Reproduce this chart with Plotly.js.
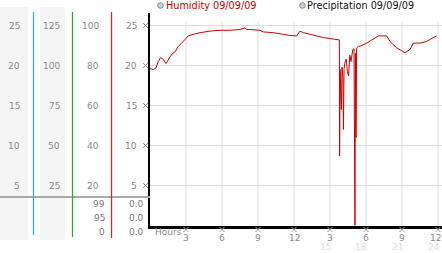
<!DOCTYPE html>
<html>
<head>
<meta charset="utf-8">
<script src="https://cdn.plot.ly/plotly-3.0.1.min.js"></script>
<style>html,body{margin:0;padding:0;background:#fff}#chart{width:442px;height:253px}</style>
</head>
<body>
<div id="chart"></div>
<script>
// ---- data ----
const hours = [0, 0.28, 0.5, 0.69, 0.89, 1.11, 1.33, 1.53, 1.81, 2.08, 2.36, 2.64, 2.92, 3.19, 3.61, 4.17, 5.0, 5.83, 6.67, 7.5, 7.92, 8.06, 8.3, 9.17, 9.44, 10.28, 11.11, 11.67, 12.22, 12.5, 12.78, 13.33, 13.89, 14.44, 15.28, 15.69,
  15.78, 15.8, 15.85, 15.9, 15.95, 16.0, 16.08, 16.12, 16.17, 16.25, 16.35, 16.45, 16.55, 16.65, 16.75, 16.9, 17.0, 17.08, 17.12, 17.17, 17.22,
  17.36, 17.5, 18.06, 18.61, 19.03, 19.72, 20.0, 20.56, 20.97, 21.25, 21.67, 21.94, 22.5, 23.06, 23.61, 23.89];
const humidity = [19.6, 19.5, 19.7, 20.5, 21.0, 20.75, 20.25, 20.75, 21.4, 21.7, 22.4, 22.8, 23.3, 23.7, 23.9, 24.1, 24.3, 24.4, 24.4, 24.5, 24.7, 24.5, 24.5, 24.4, 24.2, 24.1, 23.9, 23.75, 23.7, 24.3, 24.1, 23.9, 23.7, 23.5, 23.3, 23.25,
  23.2, 8.7, 19.5, 16.2, 14.5, 19.8, 18.5, 12.0, 19.6, 20.4, 20.8, 19.2, 18.7, 21.3, 20.5, 22.0, 22.1, 0, 21.5, 11.0, 22.2,
  22.4, 22.4, 22.8, 23.25, 23.7, 23.7, 23.0, 22.2, 21.8, 21.6, 22.0, 22.8, 22.8, 23.0, 23.5, 23.7];
const hourTicks = [3, 6, 9, 12, 15, 18, 21, 24];
const hourLabels = ["3", "6", "9", "12", "3", "6", "9", "12"];
const laterTicks = [15, 18, 21, 24];
const laterLabels = ["15", "18", "21", "24"];
const gridVals = [25, 20, 15, 10, 5];
const col1Labels = ["25", "20", "15", "10", "5"];
const col2Labels = ["125", "100", "75", "50", "25"];
const col3Labels = ["100", "80", "60", "40", "20"];
const col4Labels = ["25", "20", "15", "10", "5"];
const col3Lower = ["99", "95", "0"];
const col4Lower = ["0.0", "0.0", "0.0"];
const legendNames = ["Humidity 09/09/09", "Precipitation 09/09/09"];

// ---- layout helpers ----
const W = 442, H = 253;
const px = x => x / W;
const py = y => (H - y) / H;
const FONT = "DejaVu Sans, Verdana, sans-serif";
const tickGray = "#8a8a8a";
const PLOT_L = 150, PLOT_B = 225.5, PLOT_T = 13;
const PX_PER_HOUR = 12, PX_PER_UNIT = 8;

const shapes = [];
const annotations = [];

// left panel backgrounds
shapes.push({type: "rect", xref: "paper", yref: "paper", x0: px(0), x1: px(28), y0: py(240), y1: py(7), fillcolor: "#f5f5f5", line: {width: 0}, layer: "below"});
shapes.push({type: "rect", xref: "paper", yref: "paper", x0: px(40), x1: px(65), y0: py(240), y1: py(7), fillcolor: "#f5f5f5", line: {width: 0}, layer: "below"});
// horizontal gray separator
shapes.push({type: "line", xref: "paper", yref: "paper", x0: px(0), x1: px(150), y0: py(197), y1: py(197), line: {color: "#aaaaaa", width: 2}});
// colored scale lines
[[33.5, 235, "#33aadd"], [72.5, 237, "#2eaa2e"], [111.5, 238, "#c83030"]].forEach(([x, yb, c]) => {
  shapes.push({type: "line", xref: "paper", yref: "paper", x0: px(x), x1: px(x), y0: py(12), y1: py(yb), line: {color: c, width: 1.3}});
});
// vertical grid lines (through the x axis scale)
hourTicks.forEach(h => {
  shapes.push({type: "line", xref: "x", yref: "y", x0: h, x1: h, y0: 0, y1: 25.35, line: {color: "#dddddd", width: 1}, layer: "below"});
});
// legend markers
[[160.5, 5.5], [302.5, 5.5]].forEach(([x, y]) => {
  shapes.push({type: "circle", xref: "paper", yref: "paper", x0: px(x - 2.8), x1: px(x + 2.8), y0: py(y + 2.8), y1: py(y - 2.8), fillcolor: "#d0d0d0", line: {color: "#8a8a8a", width: 1}});
});

// legend texts
annotations.push({xref: "paper", yref: "paper", x: px(164), y: py(6), xanchor: "left", yanchor: "middle", showarrow: false, text: legendNames[0], font: {family: FONT, size: 9.7, color: "#cc0000"}});
annotations.push({xref: "paper", yref: "paper", x: px(305), y: py(6), xanchor: "left", yanchor: "middle", showarrow: false, text: legendNames[1], font: {family: FONT, size: 9.7, color: "#111111"}});

// left column labels
function colLabels(labels, rightX) {
  labels.forEach((t, i) => {
    annotations.push({xref: "paper", yref: "y", x: px(rightX), y: gridVals[i], xanchor: "right", yanchor: "middle", showarrow: false, text: t, font: {family: FONT, size: 9, color: tickGray}});
  });
}
colLabels(col1Labels, 22);
colLabels(col2Labels, 62);
colLabels(col3Labels, 100.5);
colLabels(col4Labels, 139);
const lowerY = [204, 218, 232];
col3Lower.forEach((t, i) => annotations.push({xref: "paper", yref: "paper", x: px(106.5), y: py(lowerY[i]), xanchor: "right", yanchor: "middle", showarrow: false, text: t, font: {family: FONT, size: 9, color: "#7a7a7a"}}));
col4Lower.forEach((t, i) => annotations.push({xref: "paper", yref: "paper", x: px(145.5), y: py(lowerY[i]), xanchor: "right", yanchor: "middle", showarrow: false, text: t, font: {family: FONT, size: 9, color: "#7a7a7a"}}));

// x-axis labels
annotations.push({xref: "paper", yref: "paper", x: px(153), y: py(231.5), xanchor: "left", yanchor: "middle", showarrow: false, text: "Hours", font: {family: FONT, size: 9, color: tickGray}});
hourTicks.forEach((h, i) => {
  const last = i === hourTicks.length - 1;
  annotations.push({xref: "x", yref: "paper", x: h, y: py(238), xanchor: "center", yanchor: "middle", xshift: last ? -2.5 : 0, showarrow: false, text: hourLabels[i], font: {family: FONT, size: 9, color: tickGray}});
});
laterTicks.forEach((h, i) => {
  const last = i === laterTicks.length - 1;
  annotations.push({xref: "x", yref: "paper", x: h, y: py(246.5), xanchor: "center", yanchor: "middle", xshift: last ? -4 : -5, showarrow: false, text: laterLabels[i], font: {family: FONT, size: 9, color: "#dedede"}});
});

const trace = {
  x: hours, y: humidity, type: "scatter", mode: "lines",
  line: {color: "#cc0000", width: 1}, hoverinfo: "skip", showlegend: false
};
// tick marks: drawn on an invisible axis pair that uses the same hour / unit scales
// but spans the whole figure, so marks just outside the plot are still in range.
const markStyle = {symbol: "x-thin-open", size: 5, color: "#9a9a9a", line: {color: "#9a9a9a", width: 1}};
const xMarks = {
  x: hourTicks, y: hourTicks.map(() => -4 / PX_PER_UNIT), xaxis: "x2", yaxis: "y2", type: "scatter", mode: "markers",
  marker: markStyle, hoverinfo: "skip", showlegend: false
};
const yMarks = {
  x: gridVals.map(() => -4.5 / PX_PER_HOUR), y: gridVals, xaxis: "x2", yaxis: "y2", type: "scatter", mode: "markers",
  marker: markStyle, hoverinfo: "skip", showlegend: false
};

const hidden = {showgrid: false, zeroline: false, showline: false, showticklabels: false, ticks: "", fixedrange: true};
const layout = {
  width: W, height: H,
  margin: {l: 0, r: 0, t: 0, b: 0},
  paper_bgcolor: "#ffffff", plot_bgcolor: "rgba(0,0,0,0)",
  showlegend: false,
  xaxis: {
    domain: [px(PLOT_L), 1], range: [0, (W - PLOT_L) / PX_PER_HOUR],
    showgrid: false, zeroline: false, showticklabels: false, ticks: "",
    showline: true, linecolor: "#000000", linewidth: 3, fixedrange: true
  },
  yaxis: {
    domain: [py(PLOT_B), py(PLOT_T)], range: [0, (PLOT_B - PLOT_T) / PX_PER_UNIT],
    tickvals: gridVals, showgrid: true, gridcolor: "#dddddd", gridwidth: 1,
    zeroline: false, showticklabels: false, ticks: "",
    showline: true, linecolor: "#000000", linewidth: 2, fixedrange: true
  },
  xaxis2: Object.assign({}, hidden, {domain: [0, 1], range: [-PLOT_L / PX_PER_HOUR, (W - PLOT_L) / PX_PER_HOUR], anchor: "y2"}),
  yaxis2: Object.assign({}, hidden, {domain: [0, 1], range: [-(H - PLOT_B) / PX_PER_UNIT, PLOT_B / PX_PER_UNIT], anchor: "x2"}),
  shapes: shapes,
  annotations: annotations
};

Plotly.newPlot("chart", [trace, xMarks, yMarks], layout, {staticPlot: true, displayModeBar: false});
</script>
</body>
</html>
